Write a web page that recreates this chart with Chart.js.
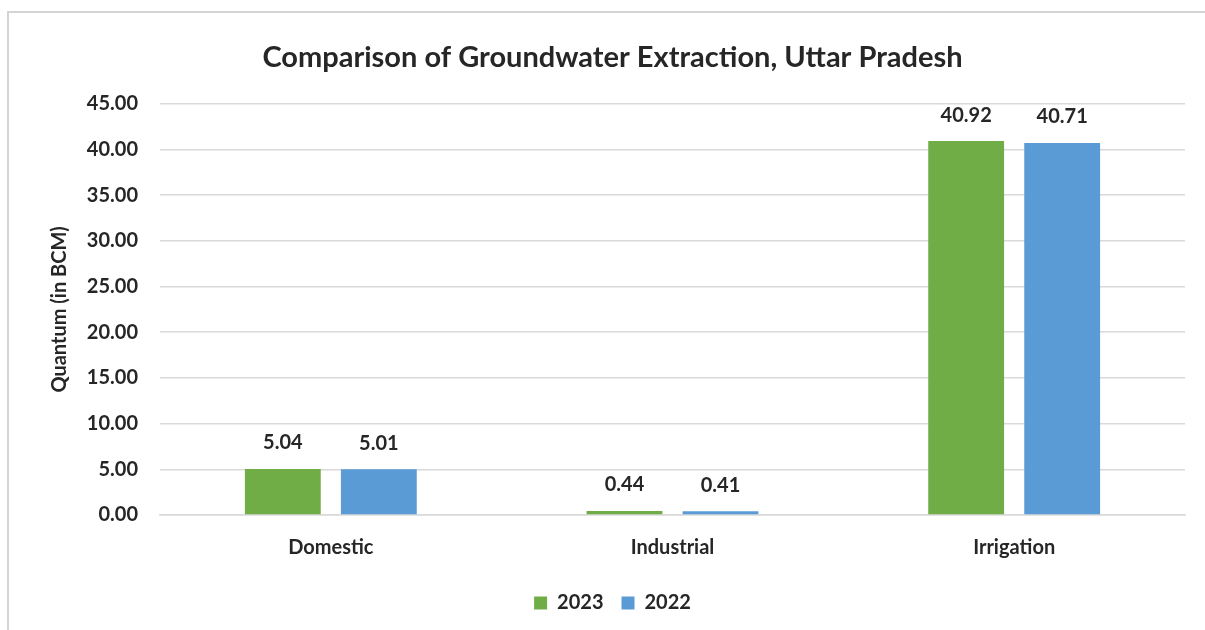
<!DOCTYPE html>
<html>
<head>
<meta charset="utf-8">
<script src="https://cdn.jsdelivr.net/npm/chart.js@4.4.0/dist/chart.umd.min.js"></script>
<style>
  html, body { margin: 0; padding: 0; background: #fff; overflow: hidden; }
  #wrap { width: 1205px; height: 630px; position: relative; }
  canvas { display: block; }
</style>
</head>
<body>
<div id="wrap"><canvas id="gw"></canvas></div>
<script>
// groundwater extraction, BCM
const categories = ['Domestic', 'Industrial', 'Irrigation'];
const years = ['2023', '2022'];
const extraction2023 = [5.04, 0.44, 40.92];
const extraction2022 = [5.01, 0.41, 40.71];
const yTicks = [0, 5, 10, 15, 20, 25, 30, 35, 40, 45];

const GREEN = '#70AD47';
const BLUE = '#5B9BD5';
const GRID = '#d9d9d9';
const TEXT = '#262626';
const FONT = 'Lato, "Open Sans", sans-serif';

// light frame: only the top and left edges fall inside the canvas
const frame = {
  id: 'frame',
  beforeDraw(chart) {
    const ctx = chart.ctx;
    ctx.save();
    ctx.strokeStyle = '#d4d4d4';
    ctx.lineWidth = 2;
    ctx.beginPath();
    ctx.moveTo(8, chart.height);
    ctx.lineTo(8, 12);
    ctx.lineTo(chart.width, 12);
    ctx.stroke();
    ctx.restore();
  }
};

// value labels above each bar
const barValues = {
  id: 'barValues',
  afterDatasetsDraw(chart) {
    const ctx = chart.ctx;
    ctx.save();
    ctx.font = 'bold 20px ' + FONT;
    ctx.fillStyle = TEXT;
    ctx.textAlign = 'center';
    ctx.textBaseline = 'middle';
    chart.data.datasets.forEach((ds, i) => {
      chart.getDatasetMeta(i).data.forEach((bar, j) => {
        ctx.fillText(ds.data[j].toFixed(2), bar.x, bar.y - 26);
      });
    });
    ctx.restore();
  }
};

new Chart(document.getElementById('gw'), {
  type: 'bar',
  data: {
    labels: categories,
    datasets: [
      { label: years[0], data: extraction2023, backgroundColor: GREEN, categoryPercentage: 0.562, barPercentage: 0.79 },
      { label: years[1], data: extraction2022, backgroundColor: BLUE, categoryPercentage: 0.562, barPercentage: 0.79 }
    ]
  },
  options: {
    responsive: true,
    maintainAspectRatio: false,
    animation: false,
    layout: { padding: { left: 40, right: 20, top: 0, bottom: 7 } },
    plugins: {
      title: {
        display: true,
        text: 'Comparison of Groundwater Extraction, Uttar Pradesh',
        color: TEXT,
        font: { family: FONT, size: 29, weight: 'bold' },
        padding: { top: 40, bottom: 29 }
      },
      legend: {
        position: 'bottom',
        labels: {
          color: TEXT,
          font: { family: FONT, size: 20, weight: 'bold' },
          boxWidth: 13,
          boxHeight: 13,
          padding: 18
        }
      },
      tooltip: { enabled: false }
    },
    scales: {
      x: {
        grid: { display: false },
        border: { color: GRID, width: 1.5 },
        ticks: { color: TEXT, padding: 13, font: { family: FONT, size: 20, weight: 'bold' } },
        afterFit: s => { s.height = 60; }
      },
      y: {
        min: 0,
        max: 45,
        afterBuildTicks: s => { s.ticks = yTicks.map(v => ({ value: v })); },
        grid: { color: GRID, lineWidth: 1.5, drawTicks: false },
        border: { display: false },
        ticks: {
          color: TEXT,
          padding: 22,
          font: { family: FONT, size: 20, weight: 'bold' },
          callback: v => v.toFixed(2)
        },
        title: {
          display: true,
          text: 'Quantum (in BCM)',
          color: TEXT,
          font: { family: FONT, size: 20, weight: 'bold' },
          padding: { top: 8, bottom: 0 }
        },
        afterFit: s => { s.width = 120; }
      }
    }
  },
  plugins: [frame, barValues]
});
</script>
</body>
</html>
